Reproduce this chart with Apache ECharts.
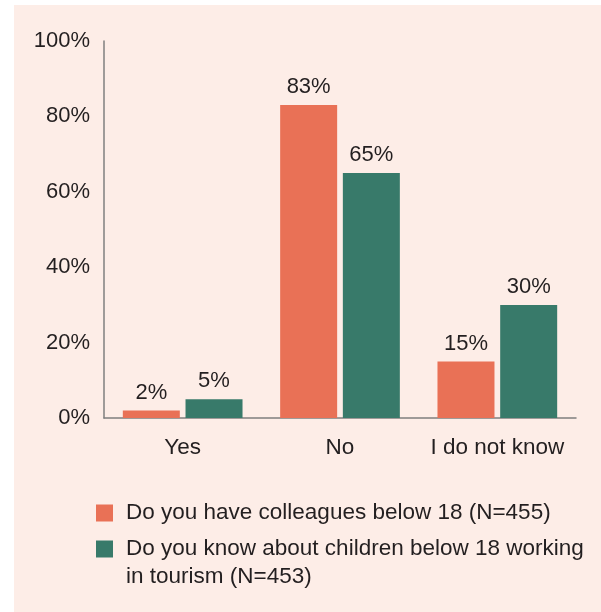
<!DOCTYPE html>
<html>
<head>
<meta charset="utf-8">
<script src="https://cdn.jsdelivr.net/npm/echarts@6/dist/echarts.min.js"></script>
<style>
  html, body { margin: 0; padding: 0; background: #ffffff; }
  #chart { width: 601px; height: 612px; }
</style>
</head>
<body>
<div id="chart"></div>
<script>
  // categories and values (percent)
  var categories = ['Yes', 'No', 'I do not know'];
  var colleagues = [2, 83, 15];
  var children = [5, 65, 30];
  var seriesNames = [
    'Do you have colleagues below 18 (N=455)',
    'Do you know about children below 18 working\nin tourism (N=453)'
  ];
  var yTicks = [0, 20, 40, 60, 80, 100];

  var textColor = '#231f20';
  var axisColor = '#7f7f7f';
  var font = '"Liberation Sans", Arial, sans-serif';
  var fs = 22.5;

  var chart = echarts.init(document.getElementById('chart'));

  var option = {
    animation: false,
    backgroundColor: '#ffffff',
    textStyle: { fontFamily: font },
    graphic: [{
      type: 'rect',
      z: -10,
      silent: true,
      shape: { x: 14, y: 5, width: 587, height: 607 },
      style: { fill: '#fdede7' }
    }],
    grid: { left: 104, right: 25, top: 41, bottom: 194 },
    legend: [{
      orient: 'vertical',
      left: 96,
      top: 499,
      padding: 0,
      itemWidth: 17,
      itemHeight: 17,
      icon: 'rect',
      data: [seriesNames[0]],
      textStyle: { fontSize: fs, color: textColor, lineHeight: 28, padding: [0, 0, 0, 8], fontFamily: font }
    }, {
      orient: 'vertical',
      left: 96,
      top: 507,
      padding: 0,
      itemWidth: 17,
      itemHeight: 17,
      icon: 'rect',
      data: [seriesNames[1]],
      // blank first line so the first real line sits beside the square
      formatter: function (name) { return '\n' + name; },
      textStyle: { fontSize: fs, color: textColor, lineHeight: 28, padding: [0, 0, 0, 8], fontFamily: font }
    }],
    xAxis: {
      type: 'category',
      data: categories,
      axisLine: { show: true, lineStyle: { color: axisColor, width: 1.5 } },
      axisTick: { show: false },
      axisLabel: { interval: 0, hideOverlap: false, fontSize: fs, color: textColor, margin: 18, fontFamily: font }
    },
    yAxis: {
      type: 'value',
      min: yTicks[0],
      max: yTicks[yTicks.length - 1],
      interval: 20,
      axisLine: { show: true, lineStyle: { color: axisColor, width: 1.5 } },
      axisTick: { show: false },
      splitLine: { show: false },
      axisLabel: { fontSize: 22, color: textColor, margin: 14, padding: [3, 0, 0, 0], formatter: '{value}%', fontFamily: font }
    },
    series: [{
      name: seriesNames[0],
      type: 'bar',
      data: colleagues,
      barWidth: 57,
      barGap: '10%',
      itemStyle: { color: '#e97156' },
      label: { show: true, position: 'top', distance: 7, formatter: '{c}%', fontSize: 22, color: textColor, fontFamily: font }
    }, {
      name: seriesNames[1],
      type: 'bar',
      data: children,
      barWidth: 57,
      barGap: '10%',
      itemStyle: { color: '#387a6a' },
      label: { show: true, position: 'top', distance: 7, formatter: '{c}%', fontSize: 22, color: textColor, fontFamily: font }
    }]
  };

  chart.setOption(option);
</script>
</body>
</html>
